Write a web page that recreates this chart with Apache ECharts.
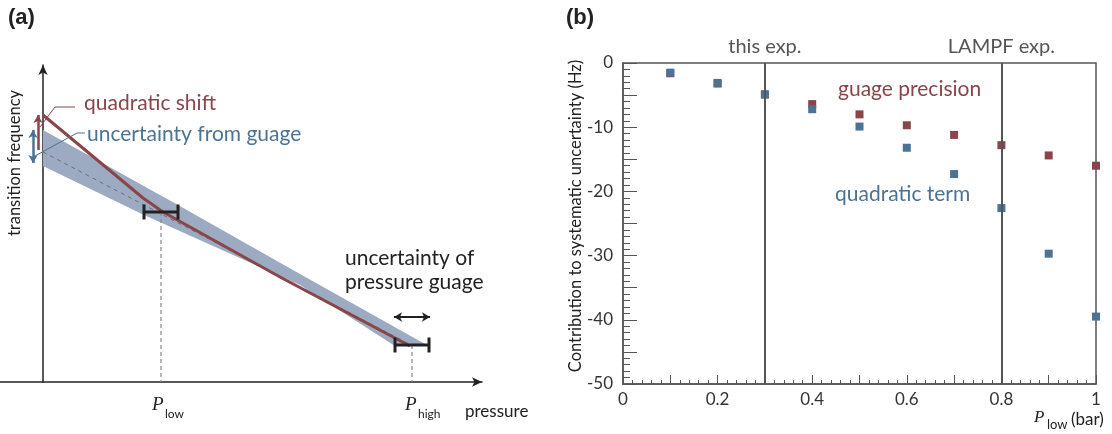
<!DOCTYPE html>
<html><head><meta charset="utf-8">
<script src="https://cdn.jsdelivr.net/npm/echarts@6/dist/echarts.min.js"></script>
<style>html,body{margin:0;padding:0;background:#fff}#c{width:1112px;height:434px}</style>
</head><body><div id="c"></div>
<script>
// ---------- Panel (b) data ----------
const pLow = [0.1, 0.2, 0.3, 0.4, 0.5, 0.6, 0.7, 0.8, 0.9, 1.0];
const gaugePrecision = [-1.6, -3.2, -4.9, -6.4, -8.0, -9.7, -11.2, -12.8, -14.4, -16.0];
const quadraticTerm = [-1.5, -3.1, -4.9, -7.2, -9.9, -13.2, -17.3, -22.6, -29.7, -39.5];
const experimentP = [0.3, 0.8];
const experimentNames = ['this exp.', 'LAMPF exp.'];

// ---------- Panel (a) schematic data (arbitrary pressure / frequency units) ----------
const bandUpper = [[0, 252], [135, 177], [257, 108], [382, 38]];
const bandLower = [[0, 216], [101, 167], [257, 97], [352, 36]];
const quadraticShiftCurve = [[0, 267], [100, 184], [120, 170], [237, 105], [367, 36]];
const linearFit = [[0, 230], [368, 37]];
const pressurePoints = [[118, 170, 17], [369, 37, 17]]; // pressure, frequency, gauge half-uncertainty
const shiftArrow = [[-5, 232], [-5, 267]];
const uncertaintyArrow = [[-10, 219], [-10, 252]];
const gaugeArrow = [[351, 65], [387, 65]];
const shiftLeader = [[-3, 255], [12, 275], [32, 275]];
const uncertaintyLeader = [[-10, 225], [34, 249], [42, 249]];

const RED = '#8a4549', BLUE = '#4a7394', BAND = '#9dabc2', INK = '#222';
const FONT = 'Lato, "Open Sans", sans-serif';
const SERIF = '"Liberation Serif", "DejaVu Serif", serif';

const chart = echarts.init(document.getElementById('c'), null, {renderer: 'canvas'});

function txt(x, y, text, size, color, opts) {
  opts = opts || {};
  const fam = opts.family || FONT;
  return {
    type: 'text', x: x, y: y, rotation: opts.rotation || 0, silent: true,
    style: {
      text: text, fill: color,
      font: (opts.style || 'normal') + ' ' + (opts.weight || 'normal') + ' ' + size + 'px ' + fam,
      fontStyle: opts.style || 'normal', fontWeight: opts.weight || 'normal', fontSize: size, fontFamily: fam,
      align: opts.align || 'left', textAlign: opts.align || 'left',
      verticalAlign: 'middle', textVerticalAlign: 'middle'
    }
  };
}

const option = {
  animation: false,
  backgroundColor: '#fff',
  grid: [
    {left: 0, top: 65, width: 482, height: 317, containLabel: false},
    {left: 623, top: 63, width: 473, height: 321, show: true, borderColor: '#555', borderWidth: 1.5, containLabel: false}
  ],
  xAxis: [
    {gridIndex: 0, type: 'value', min: -43, max: 439,
      axisLine: {show: true, onZero: true, symbol: ['none', 'arrow'], symbolSize: [7, 10], lineStyle: {color: INK, width: 1.5}},
      axisTick: {show: false}, axisLabel: {show: false}, splitLine: {show: false}},
    {gridIndex: 1, type: 'value', min: 0, max: 1, interval: 0.1,
      axisLine: {show: true, onZero: false, lineStyle: {color: '#555', width: 1.5}},
      axisTick: {show: true, inside: true, length: 9, lineStyle: {color: '#555', width: 1}},
      minorTick: {show: true, splitNumber: 5, length: 4, lineStyle: {color: '#555', width: 1}},
      axisLabel: {show: true, margin: 7, fontSize: 17, fontFamily: FONT, color: '#333',
        formatter: v => (Math.round(v * 10) % 2 === 0 ? String(+v.toFixed(1)) : '')},
      splitLine: {show: false}}
  ],
  yAxis: [
    {gridIndex: 0, type: 'value', min: 0, max: 317,
      axisLine: {show: true, onZero: true, symbol: ['none', 'arrow'], symbolSize: [7, 10], lineStyle: {color: INK, width: 1.5}},
      axisTick: {show: false}, axisLabel: {show: false}, splitLine: {show: false}},
    {gridIndex: 1, type: 'value', min: -50, max: 0, interval: 5,
      axisLine: {show: true, onZero: false, lineStyle: {color: '#555', width: 1.5}},
      axisTick: {show: true, inside: true, length: 14, lineStyle: {color: '#555', width: 1}},
      minorTick: {show: true, splitNumber: 5, length: 7, lineStyle: {color: '#555', width: 1}},
      axisLabel: {show: true, margin: 10, fontSize: 17, fontFamily: FONT, color: '#333',
        formatter: v => (Math.round(v) % 10 === 0 ? String(Math.round(v)) : '')},
      splitLine: {show: false}}
  ],
  series: [
    // ----- panel (a) -----
    {type: 'custom', xAxisIndex: 0, yAxisIndex: 0, data: [0], z: 1, silent: true,
      renderItem: (params, api) => ({
        type: 'polygon',
        shape: {points: bandUpper.concat(bandLower.slice().reverse()).map(p => api.coord(p))},
        style: {fill: BAND}
      })},
    {type: 'line', xAxisIndex: 0, yAxisIndex: 0, data: linearFit, z: 2, symbol: 'none', silent: true,
      lineStyle: {color: '#6f6f6f', width: 1, type: [4, 4]}},
    {type: 'custom', xAxisIndex: 0, yAxisIndex: 0, data: pressurePoints, z: 2, silent: true,
      renderItem: (params, api) => {
        const a = api.coord([api.value(0), api.value(1)]);
        const b = api.coord([api.value(0), 0]);
        return {type: 'line', shape: {x1: a[0], y1: a[1], x2: b[0], y2: b[1]},
          style: {stroke: '#888', lineWidth: 1.2, lineDash: [4, 3]}};
      }},
    {type: 'line', xAxisIndex: 0, yAxisIndex: 0, data: quadraticShiftCurve, z: 3, symbol: 'none', smooth: false, silent: true,
      lineStyle: {color: RED, width: 3, join: 'round'}},
    {type: 'custom', xAxisIndex: 0, yAxisIndex: 0, data: pressurePoints, z: 4, silent: true,
      renderItem: (params, api) => {
        const cx = api.value(0), cy = api.value(1), h = api.value(2);
        const a = api.coord([cx - h, cy]), b = api.coord([cx + h, cy]);
        const cap = 7.5;
        const st = {stroke: INK, lineWidth: 3};
        return {type: 'group', children: [
          {type: 'line', shape: {x1: a[0], y1: a[1], x2: b[0], y2: b[1]}, style: st},
          {type: 'line', shape: {x1: a[0], y1: a[1] - cap, x2: a[0], y2: a[1] + cap}, style: st},
          {type: 'line', shape: {x1: b[0], y1: b[1] - cap, x2: b[0], y2: b[1] + cap}, style: st}
        ]};
      }},
    {type: 'line', xAxisIndex: 0, yAxisIndex: 0, data: shiftLeader, z: 3, symbol: 'none', silent: true,
      lineStyle: {color: RED, width: 1}},
    {type: 'line', xAxisIndex: 0, yAxisIndex: 0, data: uncertaintyLeader, z: 3, symbol: 'none', silent: true,
      lineStyle: {color: BLUE, width: 1}},
    {type: 'line', xAxisIndex: 0, yAxisIndex: 0, data: [], z: 5, silent: true,
      markLine: {silent: true, animation: false, label: {show: false}, symbolSize: [7, 8],
        data: [
          [{coord: shiftArrow[0], symbol: 'none', lineStyle: {color: RED, width: 2.5, type: 'solid'}},
           {coord: shiftArrow[1], symbol: 'arrow'}],
          [{coord: uncertaintyArrow[0], symbol: 'arrow', lineStyle: {color: BLUE, width: 2.5, type: 'solid'}},
           {coord: uncertaintyArrow[1], symbol: 'arrow'}],
          [{coord: gaugeArrow[0], symbol: 'arrow', lineStyle: {color: INK, width: 2, type: 'solid'}},
           {coord: gaugeArrow[1], symbol: 'arrow'}]
        ]}},
    // ----- panel (b) -----
    {type: 'line', xAxisIndex: 1, yAxisIndex: 1, data: [], z: 1, silent: true,
      markLine: {silent: true, animation: false, symbol: ['none', 'none'],
        lineStyle: {color: '#555', width: 2, type: 'solid'},
        label: {show: true, position: 'end', distance: 6, formatter: '{b}', fontSize: 20, fontFamily: FONT, color: '#555'},
        data: experimentP.map((p, i) => ({xAxis: p, name: experimentNames[i]}))}},
    {name: 'guage precision', type: 'scatter', xAxisIndex: 1, yAxisIndex: 1, z: 3, symbol: 'rect', symbolSize: 8,
      itemStyle: {color: RED, opacity: 1}, data: pLow.map((p, i) => [p, gaugePrecision[i]])},
    {name: 'quadratic term', type: 'scatter', xAxisIndex: 1, yAxisIndex: 1, z: 4, symbol: 'rect', symbolSize: 8,
      itemStyle: {color: BLUE, opacity: 1}, data: pLow.map((p, i) => [p, quadraticTerm[i]])}
  ],
  graphic: [
    txt(8, 18, '(a)', 22, INK, {weight: 'bold', family: '"Liberation Sans", Arial, sans-serif'}),
    txt(566, 18, '(b)', 22, INK, {weight: 'bold', family: '"Liberation Sans", Arial, sans-serif'}),
    txt(84, 103, 'quadratic shift', 21, RED),
    txt(87, 134, 'uncertainty from guage', 21, BLUE),
    txt(345, 258, 'uncertainty of', 21, INK),
    txt(345, 282, 'pressure guage', 21, INK),
    txt(15, 163, 'transition frequency', 16.5, INK, {rotation: Math.PI / 2, align: 'center'}),
    txt(152, 405, 'P', 19, INK, {style: 'italic', family: SERIF}),
    txt(165, 414, 'low', 12, INK),
    txt(405, 405, 'P', 19, INK, {style: 'italic', family: SERIF}),
    txt(418, 414, 'high', 12, INK),
    txt(465, 412, 'pressure', 17, INK),
    txt(576, 216, 'Contribution to systematic uncertainty (Hz)', 16.5, INK, {rotation: Math.PI / 2, align: 'center'}),
    txt(838, 89, 'guage precision', 21, RED),
    txt(835, 194, 'quadratic term', 21, BLUE),
    txt(1034, 418, 'P', 17, INK, {style: 'italic', family: SERIF}),
    txt(1047, 425, 'low', 13, INK),
    txt(1071, 420, '(bar)', 17, INK)
  ]
};
chart.setOption(option);
</script></body></html>
